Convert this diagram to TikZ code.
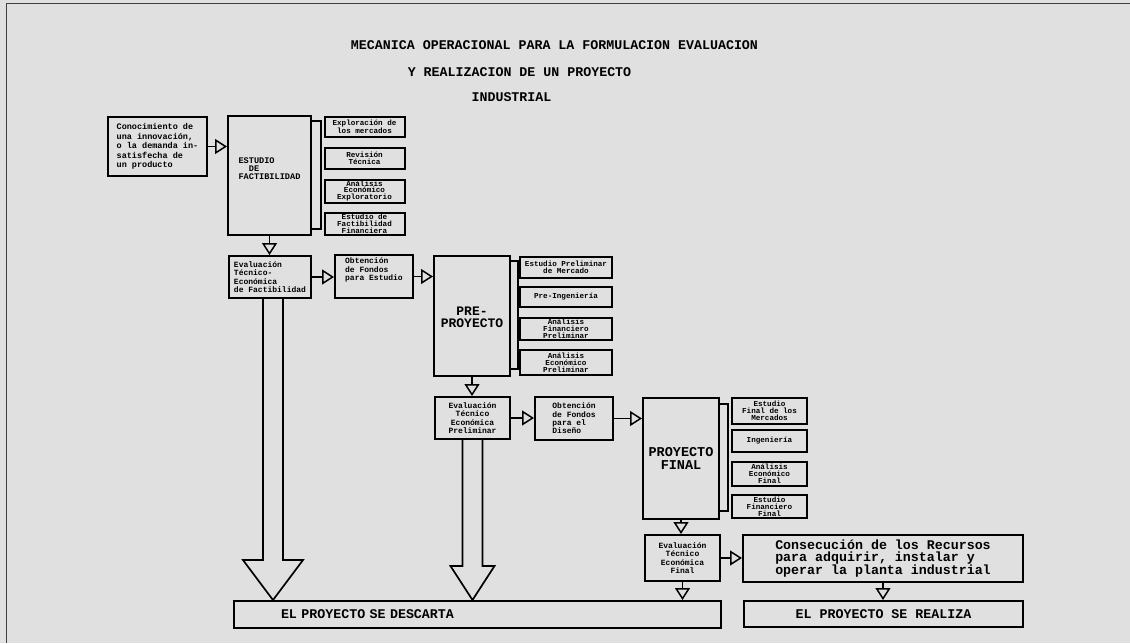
\documentclass[tikz,border=0pt]{standalone}
\usepackage{fontspec}
\newfontfamily\mono{Liberation Mono}
\usetikzlibrary{arrows.meta,calc}
\tikzset{
  box/.style={draw, line width=2pt, inner sep=0pt, align=center},
  ttl/.style={font=\mono\bfseries\fontsize{13.3}{14}\selectfont},
  big/.style={font=\mono\bfseries\fontsize{13.3}{12}\selectfont},
  sm/.style={font=\mono\bfseries\fontsize{7.6}{6.9}\selectfont},
  md/.style={font=\mono\bfseries\fontsize{8.5}{9.4}\selectfont},
  ev/.style={font=\mono\bfseries\fontsize{8}{8.3}\selectfont},
  arr/.style={line width=1.5pt, -{Triangle[open,length=12pt,width=15pt]}},
  bigarr/.style={line width=1.7pt, line join=miter},
  brk/.style={line width=1.4pt},
  frame/.style={line width=0.9pt, black!75}
}
\begin{document}
\begin{tikzpicture}[x=1pt,y=-1pt]
\fill[black!12] (0,0) rectangle (1130,643);
\useasboundingbox (0,0) rectangle (1130,643);
\draw[frame] (6,643) -- (6,3) -- (1130,3);

% title
\node[ttl] (t1) at (554.5,45) {MECANICA OPERACIONAL PARA LA FORMULACION EVALUACION};
\node[ttl] (t2) at (519.5,72) {Y REALIZACION DE UN PROYECTO};
\node[ttl] (t3) at (511.5,97) {INDUSTRIAL};

% first stage
\node[box, md, align=left, minimum width=99pt, minimum height=59pt] (A) at (157.5,146.5)
  {Conocimiento de\\una innovación,\\o la demanda in-\\satisfecha de\\un producto};
\node[box, minimum width=83pt, minimum height=119pt] (B) at (269.5,175.5) {};
\node[font=\mono\bfseries\fontsize{8.6}{8}\selectfont, align=left] (Bt) at (269.5,169) {ESTUDIO\\\ \ DE\\FACTIBILIDAD};
\node[box, sm, minimum width=80pt, minimum height=20pt] (S1) at (364.5,127) {Exploración de\\los mercados};
\node[box, sm, minimum width=80pt, minimum height=21pt] (S2) at (364.5,158.5) {Revisión\\Técnica};
\node[box, sm, minimum width=80pt, minimum height=23pt] (S3) at (364.5,191) {Análisis\\Económico\\Exploratorio};
\node[box, sm, minimum width=80pt, minimum height=22pt] (S4) at (364.5,223.5) {Estudio de\\Factibilidad\\Financiera};
\draw[brk] ($(B.north east)+(0,6)$) -- ++(9,0) -- ($(B.south east)+(9,-7)$) -- ++(-9,0);

% second stage
\node[box, ev, align=left, minimum width=82pt, minimum height=42pt] (E1) at (270,277)
  {Evaluación\\ Técnico-\\Económica\\de Factibilidad};
\node[box, ev, align=left, minimum width=78pt, minimum height=43pt] (O1) at (374,276.5)
  {Obtención\\de Fondos\\para Estudio\\[6pt]};
\node[box, minimum width=76pt, minimum height=120pt] (PRE) at (472,316) {};
\node[font=\mono\bfseries\fontsize{13}{11.5}\selectfont, align=center] (PREt) at (472,317.5) {PRE-\\PROYECTO};
\node[box, sm, minimum width=92pt, minimum height=21pt] (P1) at (566,267.5) {Estudio Preliminar\\de Mercado};
\node[box, sm, minimum width=92pt, minimum height=20pt] (P2) at (566,297) {Pre-Ingeniería};
\node[box, sm, minimum width=92pt, minimum height=22pt] (P3) at (566,329) {Análisis\\Financiero\\Preliminar};
\node[box, sm, minimum width=92pt, minimum height=25pt] (P4) at (566,362.5) {Análisis\\Económico\\Preliminar};
\draw[brk] ($(PRE.north east)+(0,6)$) -- ++(7,0) -- ($(PRE.south east)+(7,-8)$) -- ++(-7,0);

% third stage
\node[box, ev, minimum width=75pt, minimum height=42pt] (E2) at (472.5,418)
  {Evaluación\\Técnico\\Económica\\Preliminar};
\node[box, ev, align=left, minimum width=78pt, minimum height=43pt] (O2) at (574,418.5)
  {Obtención\\de Fondos\\para el\\Diseño};
\node[box, minimum width=76pt, minimum height=121pt] (PF) at (681,458.5) {};
\node[font=\mono\bfseries\fontsize{13.5}{13}\selectfont, align=center] (PFt) at (681,458.5) {PROYECTO\\FINAL};
\node[box, sm, minimum width=75pt, minimum height=26pt] (F1) at (769.5,411) {Estudio\\Final de los\\Mercados};
\node[box, sm, minimum width=75pt, minimum height=22pt] (F2) at (769.5,441) {Ingeniería};
\node[box, sm, minimum width=75pt, minimum height=24pt] (F3) at (769.5,474) {Análisis\\Económico\\Final};
\node[box, sm, minimum width=75pt, minimum height=23pt] (F4) at (769.5,506.5) {Estudio\\Financiero\\Final};
\draw[brk] ($(PF.north east)+(0,7)$) -- ++(8,0) -- ($(PF.south east)+(8,-9)$) -- ++(-8,0);

% fourth stage
\node[box, ev, minimum width=75pt, minimum height=46pt] (E3) at (682.5,558)
  {Evaluación\\Técnico\\Económica\\Final};
\node[box, big, align=left, minimum width=280pt, minimum height=47pt] (C) at (883,558.5)
  {Consecución de los Recursos\\para adquirir, instalar y\\operar la planta industrial};

% results
\node[box, ttl, align=left, minimum height=27pt, text width=393pt, inner xsep=47pt] (D) at (477.5,614.5)
  {EL PROYECTO SE DESCARTA};
\node[box, ttl, minimum width=279pt, minimum height=26pt] (R) at (883.5,614) {EL PROYECTO SE REALIZA};

% connectors
\draw[arr] (A.east) -- (A.east -| B.west);
\draw[arr] (B.south) -- (B.south |- E1.north);
\draw[arr] (E1.east) -- (E1.east -| O1.west);
\draw[arr] (O1.east) -- (O1.east -| PRE.west);
\draw[arr] (PRE.south) -- (PRE.south |- E2.north);
\draw[arr] (E2.east) -- (E2.east -| O2.west);
\draw[arr] (O2.east) -- (O2.east -| PF.west);
\draw[arr] (PF.south) -- (PF.south |- E3.north);
\draw[arr] (E3.east) -- (E3.east -| C.west);
\draw[arr] (E3.south) -- (E3.south |- D.north);
\draw[arr] (C.south) -- (C.south |- R.north);

% big hollow arrows to "se descarta"
\draw[bigarr] let \p1=(E1.south), \p2=(D.north) in
  (\x1-7pt,\y1) -- (\x1-7pt,\y2+40pt) -- (\x1-27pt,\y2+40pt) -- (\x1+3pt,\y2)
  -- (\x1+33pt,\y2+40pt) -- (\x1+13pt,\y2+40pt) -- (\x1+13pt,\y1);
\draw[bigarr] let \p1=(E2.south), \p2=(D.north) in
  (\x1-10pt,\y1) -- (\x1-10pt,\y2+34pt) -- (\x1-22pt,\y2+34pt) -- (\x1,\y2)
  -- (\x1+22pt,\y2+34pt) -- (\x1+10pt,\y2+34pt) -- (\x1+10pt,\y1);
\end{tikzpicture}
\end{document}
